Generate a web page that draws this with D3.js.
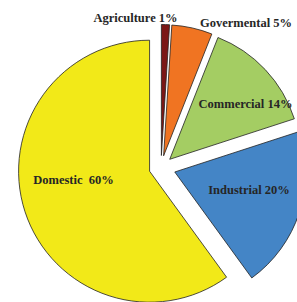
<!DOCTYPE html>
<html>
<head>
<meta charset="utf-8">
<script src="https://cdn.jsdelivr.net/npm/d3@7"></script>
<style>
  html, body { margin: 0; padding: 0; background: #fff; }
  svg { display: block; }
</style>
</head>
<body>
<svg id="chart" width="297" height="302"></svg>
<script>
// data (percent of use)
var categories = ["Agriculture", "Govermental", "Commercial", "Industrial", "Domestic"];
var values = [1, 5, 14, 20, 60];
var labels = ["Agriculture 1%", "Govermental 5%", "Commercial 14%", "Industrial 20%", "Domestic  60%"];
var colors = ["#7b1716", "#f07422", "#a4cd63", "#4485c6", "#f2e918"];

var svg = d3.select("#chart"),
    cx = 161, cy = 167.5,
    radius = 131;

// how far each slice is pulled out (layout only)
var explode = [12, 12, 12, 14.5, 12];

var g = svg.append("g")
    .attr("transform", "translate(" + cx + "," + cy + ")");

var pie = d3.pie().sort(null).value(function(d) { return d; });
var arcs = pie(values);

var arc = d3.arc().innerRadius(0).outerRadius(radius);

function offset(d, dist) {
    var a = (d.startAngle + d.endAngle) / 2;
    return [Math.sin(a) * dist, -Math.cos(a) * dist];
}

g.selectAll("path")
    .data(arcs)
    .enter().append("path")
    .attr("d", arc)
    .attr("transform", function(d, i) {
        var o = offset(d, explode[i]);
        return "translate(" + o[0] + "," + o[1] + ")";
    })
    .attr("fill", function(d, i) { return colors[i]; })
    .attr("stroke", "#222")
    .attr("stroke-width", 0.8)
    .attr("stroke-linejoin", "miter");

// label nudges relative to the pie centre (layout only)
var labelAt = [[-25.5, -146], [85, -140.5], [84.5, -59.5], [88, 26], [-87.5, 16.5]];

g.selectAll("text")
    .data(arcs)
    .enter().append("text")
    .attr("x", function(d, i) { return labelAt[i][0]; })
    .attr("y", function(d, i) { return labelAt[i][1]; })
    .attr("text-anchor", "middle")
    .attr("fill", "#262626")
    .style("font-family", "'Liberation Serif', 'Times New Roman', serif")
    .style("font-weight", "bold")
    .style("font-size", "12.5px")
    .style("white-space", "pre")
    .text(function(d, i) { return labels[i]; });
</script>
</body>
</html>
